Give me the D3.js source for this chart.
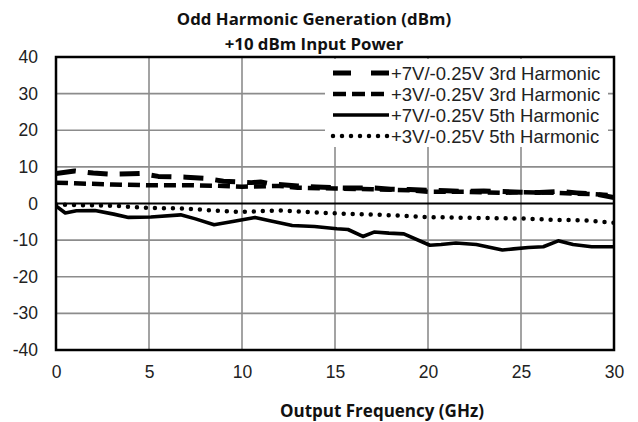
<!DOCTYPE html>
<html>
<head>
<meta charset="utf-8">
<script src="https://cdn.jsdelivr.net/npm/d3@7"></script>
<style>
  html, body { margin: 0; padding: 0; background: #fff; }
  svg { display: block; }
</style>
</head>
<body>
<svg id="chart" width="638" height="422"></svg>
<script>
// ---- data ----
const titleLines = ["Odd Harmonic Generation (dBm)", "+10 dBm Input Power"];
const xAxisTitle = "Output Frequency (GHz)";
const xTicks = [0, 5, 10, 15, 20, 25, 30];
const yTicks = [-40, -30, -20, -10, 0, 10, 20, 30, 40];

const seriesNames = [
  "+7V/-0.25V 3rd Harmonic",
  "+3V/-0.25V 3rd Harmonic",
  "+7V/-0.25V 5th Harmonic",
  "+3V/-0.25V 5th Harmonic"
];

const freq7v3rd = [0, 1, 2, 3, 4, 4.5, 5.5, 7, 8, 9, 10.5, 11, 11.5, 13, 14, 15, 16, 17, 18, 19, 20, 21, 22, 23, 24, 25, 26, 27, 28, 29, 30];
const val7v3rd  = [8.2, 8.9, 8.3, 8.0, 8.1, 8.2, 7.4, 7.2, 6.9, 6.1, 5.7, 5.9, 5.4, 4.8, 4.5, 4.3, 4.2, 4.3, 3.9, 3.8, 3.6, 3.5, 3.3, 3.4, 3.3, 3.1, 3.0, 3.3, 2.9, 2.6, 1.6];

const freq3v3rd = [0, 1, 3, 5, 7, 9, 10, 12, 13, 15, 17, 19, 20, 22, 24, 25, 27, 28, 29, 30];
const val3v3rd  = [5.7, 5.5, 5.2, 5.0, 5.0, 4.8, 4.6, 4.8, 4.3, 4.1, 3.9, 3.6, 3.2, 3.2, 2.9, 3.1, 2.9, 2.7, 2.5, 2.2];

const freq7v5th = [0, 0.5, 1.1, 2.1, 3.1, 3.9, 5.1, 6.7, 7.5, 8.5, 9.5, 10.7, 11.5, 12.7, 13.9, 15.1, 15.7, 16.5, 17.1, 17.9, 18.7, 20.1, 20.7, 21.5, 22.6, 24.0, 24.6, 25.4, 26.2, 27.0, 27.8, 28.8, 30];
const val7v5th  = [-0.7, -2.6, -2.0, -1.9, -2.9, -3.8, -3.7, -3.1, -4.2, -5.8, -4.9, -3.8, -4.7, -6.0, -6.3, -6.9, -7.1, -9.0, -7.8, -8.1, -8.3, -11.4, -11.2, -10.8, -11.2, -12.7, -12.4, -12.0, -11.8, -10.2, -11.2, -11.8, -11.8];

const freq3v5th = [0, 1, 3, 5, 7, 9, 10, 12, 15, 18, 20, 22, 25, 27, 28.5, 30];
const val3v5th  = [-0.3, -0.4, -0.6, -1.2, -1.4, -2.1, -2.3, -1.9, -2.7, -3.2, -3.7, -3.9, -4.1, -4.5, -4.6, -5.3];

// ---- layout ----
const svg = d3.select("#chart");
const L = 56, R = 614, T = 57, B = 350;
const x = d3.scaleLinear().domain([0, 30]).range([L, R]);
const y = d3.scaleLinear().domain([-40, 40]).range([B, T]);

const labelFont = "'Liberation Sans', Arial, sans-serif";
const titleFont = "'Open Sans', 'Liberation Sans', sans-serif";

// gridlines
const gx = svg.append("g");
gx.selectAll("line.vx").data(xTicks.filter(d => d > 0 && d < 30)).join("line")
  .attr("x1", d => x(d)).attr("x2", d => x(d)).attr("y1", T).attr("y2", B)
  .attr("stroke", "#8c8c8c").attr("stroke-width", 1.6);
gx.selectAll("line.hy").data(yTicks.filter(d => d > -40 && d < 40 && d !== 0)).join("line")
  .attr("x1", L).attr("x2", R).attr("y1", d => y(d)).attr("y2", d => y(d))
  .attr("stroke", "#8c8c8c").attr("stroke-width", 1.6);

// zero line
svg.append("line").attr("x1", L).attr("x2", R).attr("y1", y(0)).attr("y2", y(0))
  .attr("stroke", "#000").attr("stroke-width", 2);

// axes tick labels via d3 axes
const fmt = d => String(d);
const xAxis = d3.axisBottom(x).tickValues(xTicks).tickFormat(fmt).tickSize(0).tickPadding(16);
const gX = svg.append("g").attr("transform", `translate(0,${B})`).call(xAxis);
gX.select(".domain").remove();
gX.selectAll("text").attr("font-family", labelFont).attr("font-size", 17.5).attr("fill", "#222");

const yAxis = d3.axisLeft(y).tickValues(yTicks).tickFormat(fmt).tickSize(0).tickPadding(18);
const gY = svg.append("g").attr("transform", `translate(${L},0)`).call(yAxis);
gY.select(".domain").remove();
gY.selectAll("text").attr("font-family", labelFont).attr("font-size", 17.5).attr("fill", "#222");

// legend background (white box over grid)
const legX = 325, legY = 59, legW = 283, legH = 88;
svg.append("rect").attr("x", legX).attr("y", legY).attr("width", legW).attr("height", legH).attr("fill", "#fff");

// series
const styles = [
  { dash: "20,12", width: 5, cap: "butt" },
  { dash: "12,6", width: 4.5, cap: "butt" },
  { dash: null, width: 3.6, cap: "butt" },
  { dash: "0,9", width: 4.5, cap: "round" }
];
const seriesData = [
  d3.zip(freq7v3rd, val7v3rd),
  d3.zip(freq3v3rd, val3v3rd),
  d3.zip(freq7v5th, val7v5th),
  d3.zip(freq3v5th, val3v5th)
];
const line = d3.line().x(d => x(d[0])).y(d => y(d[1])).curve(d3.curveLinear);
const clip = svg.append("clipPath").attr("id", "plotclip");
clip.append("rect").attr("x", L).attr("y", T).attr("width", R - L).attr("height", B - T);

seriesData.forEach((data, i) => {
  const s = styles[i];
  svg.append("path").datum(data)
    .attr("clip-path", "url(#plotclip)")
    .attr("d", line)
    .attr("fill", "none").attr("stroke", "#000")
    .attr("stroke-width", s.width)
    .attr("stroke-linejoin", "round")
    .attr("stroke-linecap", s.cap)
    .attr("stroke-dasharray", s.dash);
});

// plot border
svg.append("rect").attr("x", L).attr("y", T).attr("width", R - L).attr("height", B - T)
  .attr("fill", "none").attr("stroke", "#000").attr("stroke-width", 2.5);

// legend entries
const legRowY = [73, 94, 115, 136];
seriesNames.forEach((name, i) => {
  const s = styles[i];
  svg.append("line")
    .attr("x1", 333).attr("x2", 389).attr("y1", legRowY[i]).attr("y2", legRowY[i])
    .attr("stroke", "#000").attr("stroke-width", s.width)
    .attr("stroke-linecap", s.cap)
    .attr("stroke-dasharray", i === 0 ? "18,20" : (i === 1 ? "13,6" : s.dash));
  svg.append("text")
    .attr("x", 391).attr("y", legRowY[i]).attr("dy", "0.36em")
    .attr("font-family", labelFont).attr("font-size", 18.5).attr("fill", "#222")
    .text(name);
});

// titles
svg.selectAll("text.title").data(titleLines).join("text")
  .attr("class", "title")
  .attr("x", 314).attr("y", (d, i) => 25 + i * 25)
  .attr("text-anchor", "middle")
  .attr("font-family", titleFont).attr("font-weight", "bold").attr("font-size", 16.8)
  .attr("fill", "#111")
  .text(d => d);

svg.append("text")
  .attr("x", 382).attr("y", 417)
  .attr("text-anchor", "middle")
  .attr("font-family", titleFont).attr("font-weight", "bold").attr("font-size", 17)
  .attr("fill", "#111")
  .text(xAxisTitle);
</script>
</body>
</html>
